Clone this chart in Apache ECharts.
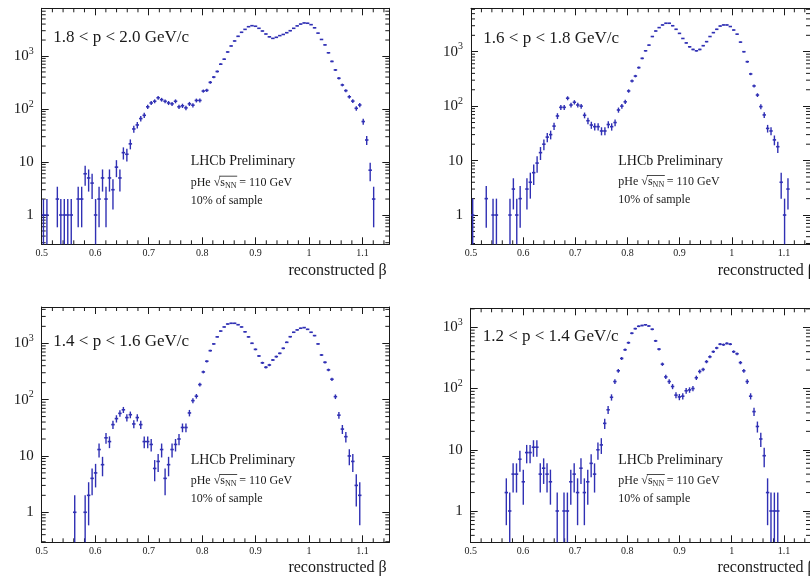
<!DOCTYPE html>
<html><head><meta charset="utf-8">
<script src="https://cdn.jsdelivr.net/npm/echarts@6/dist/echarts.min.js"></script>
<style>html,body{margin:0;padding:0;background:#fff}#c{width:810px;height:576px}</style>
</head><body><div id="c"></div>
<script>
// ---------- data ----------
const BIN_LOW = 0.5, BIN_WIDTH = 0.0065, N_BINS = 100;
const X_MIN = 0.5, X_MAX = 1.15;
const xTickValues = [0.5, 0.6, 0.7, 0.8, 0.9, 1.0, 1.1];
const panelTitles = ['1.8 < p < 2.0 GeV/c', '1.6 < p < 1.8 GeV/c', '1.4 < p < 1.6 GeV/c', '1.2 < p < 1.4 GeV/c'];
const xAxisTitle = 'reconstructed β';
const labelLHCb = 'LHCb Preliminary';
const labelSample = '10% of sample';

const counts_p18_20 = [
 1,1,0,0,2,1,1,1,1,0,
 2,2,6,5,4,1,2,5,2,5,
 3,8,5,15,14,22,42,50,66,76,
 110,130,140,163,150,140,130,125,140,110,
 115,105,125,118,145,145,218,225,318,400,
 510,700,870,1190,1545,1920,2350,2800,3180,3570,
 3730,3640,3330,2960,2600,2300,2150,2250,2420,2550,
 2750,3000,3330,3700,4000,4200,4150,3900,3400,2700,
 2050,1620,1150,790,545,380,284,222,170,141,
 103,119,58,26,7,2,0,0,0,0];
const counts_p16_18 = [
 1,0,0,0,2,0,1,1,0,0,
 0,1,3,1,2,0,3,4,6,9,
 14,20,27,30,43,66,95,95,140,105,
 118,105,100,68,54,45,42,42,35,35,
 46,42,50,85,100,120,190,290,357,510,
 755,1040,1320,1900,2400,2770,3100,3330,3330,3000,
 2580,2170,1750,1450,1230,1100,1040,1100,1290,1530,
 1900,2240,2580,2960,3100,3100,2900,2500,2100,1500,
 1000,655,390,235,160,98,69,39,35,24,
 18,4,1,3,0,0,0,0,0,0];
const counts_p14_16 = [
 0,0,0,0,0,0,0,0,0,1,
 0,0,1,2,4,5,13,7,21,18,
 36,46,57,66,48,54,37,48,36,18,
 18,16,6,8,13,4,7,13,16,20,
 32,32,58,96,115,185,310,480,740,975,
 1300,1650,1950,2200,2265,2265,2140,1950,1600,1300,
 1000,780,596,450,375,412,505,580,664,815,
 1040,1310,1570,1730,1850,1900,1770,1570,1370,975,
 620,460,337,230,113,53,30,22,10,8,
 3,2,0,0,0,0,0,0,0,0];
const counts_p12_14 = [
 0,0,0,0,0,0,0,0,0,0,
 2,1,4,4,7,3,9,9,11,11,
 4,5,4,3,0,1,0,1,1,3,
 4,2,5,2,3,6,4,10,12,27,
 45,72,130,195,310,430,560,800,950,1040,
 1070,1100,1050,930,600,440,250,155,130,108,
 78,73,75,92,95,100,150,190,205,275,
 330,400,460,530,520,545,530,400,370,265,
 195,130,75,42,24,15,8,2,1,1,
 1,0,0,0,0,0,0,0,0,0];
const panelCounts = [counts_p18_20, counts_p16_18, counts_p14_16, counts_p12_14];
const yMins = [0.28, 0.29, 0.293, 0.308];
const yMaxs = [7940, 6270, 4410, 2044];

// ---------- layout / style ----------
const FONT = '"Liberation Serif", "DejaVu Serif", serif';
const AXIS_COLOR = '#1a1a1a';
const TEXT_COLOR = '#1a1a1a';
const MARK_COLOR = '#3030b4';
const grids = [
  {left: 41.7, top: 8.3, width: 347.6, height: 236},
  {left: 471, top: 8.3, width: 347.6, height: 236},
  {left: 41.7, top: 307, width: 347.6, height: 235.3},
  {left: 470.7, top: 308.3, width: 347.6, height: 234}
];
const titlePos = [[53.3, 37.3], [483.3, 38.3], [53.3, 341.7], [482.7, 336.7]];
const infoPos = [[190.7, 161.7], [618.3, 161], [190.7, 460], [618.3, 460]];
const axisTitleY = [271, 271, 567.5, 567.5];

function binCenter(i) { return BIN_LOW + (i + 0.5) * BIN_WIDTH; }

function renderErr(params, api) {
  const cs = params.coordSys;
  const x = api.value(0), v = api.value(1);
  const hw = BIN_WIDTH / 2;
  const e = Math.sqrt(v);
  const yTop = cs.y, yBot = cs.y + cs.height;
  const clampY = y => Math.max(yTop, Math.min(yBot, y));
  const c = api.coord([x, v]);
  const l = api.coord([x - hw, v]), r = api.coord([x + hw, v]);
  const hi = clampY(api.coord([x, v + e])[1]);
  const lo = (v - e) > 0 ? clampY(api.coord([x, v - e])[1]) : yBot;
  return {type: 'group', children: [
    {type: 'line', shape: {x1: c[0], y1: hi, x2: c[0], y2: lo}, style: {stroke: MARK_COLOR, lineWidth: 1.4}},
    {type: 'line', shape: {x1: l[0], y1: c[1], x2: r[0], y2: c[1]}, style: {stroke: MARK_COLOR, lineWidth: 1.6}}
  ]};
}

function renderMinor(params, api) {
  const cs = params.coordSys;
  const kind = api.value(2);
  const st = {stroke: AXIS_COLOR, lineWidth: 1};
  if (kind === 0) {
    const y = api.coord([X_MIN, api.value(1)])[1];
    return {type: 'group', children: [
      {type: 'line', shape: {x1: cs.x, y1: y, x2: cs.x + 4, y2: y}, style: st},
      {type: 'line', shape: {x1: cs.x + cs.width, y1: y, x2: cs.x + cs.width - 4, y2: y}, style: st}
    ]};
  }
  const x = api.coord([api.value(0), api.value(1)])[0];
  return {type: 'group', children: [
    {type: 'line', shape: {x1: x, y1: cs.y + cs.height, x2: x, y2: cs.y + cs.height - 4}, style: st},
    {type: 'line', shape: {x1: x, y1: cs.y, x2: x, y2: cs.y + 4}, style: st}
  ]};
}

const xAxes = [], yAxes = [], series = [], graphics = [];
grids.forEach((g, p) => {
  const ymin = yMins[p], ymax = yMaxs[p];
  const axisLine = {show: true, onZero: false, lineStyle: {color: AXIS_COLOR, width: 1}};
  const tick = {show: true, inside: true, length: 7, lineStyle: {color: AXIS_COLOR, width: 1}};
  xAxes.push({
    gridIndex: p, type: 'value', position: 'bottom', min: X_MIN, max: X_MAX, interval: 0.1,
    axisLine, axisTick: tick, splitLine: {show: false},
    axisLabel: {
      show: true, margin: 4, fontFamily: FONT, fontSize: 10, color: TEXT_COLOR,
      showMaxLabel: false,
      formatter: v => xTickValues.some(t => Math.abs(t - v) < 1e-6) ? String(+v.toFixed(1)) : ''
    }
  });
  xAxes.push({
    gridIndex: p, type: 'value', position: 'top', min: X_MIN, max: X_MAX, interval: 0.1,
    axisLine, axisTick: tick, splitLine: {show: false}, axisLabel: {show: false}
  });
  yAxes.push({
    gridIndex: p, type: 'log', logBase: 10, position: 'left', min: ymin, max: ymax,
    axisLine, axisTick: tick, splitLine: {show: false},
    axisLabel: {
      show: true, margin: 8, fontFamily: FONT, fontSize: 15, color: TEXT_COLOR,
      formatter: v => {
        const l = Math.log10(v), e = Math.round(l);
        if (Math.abs(l - e) > 1e-6 || e < 0) return '';
        if (e === 0) return '1';
        if (e === 1) return '10';
        return '{b|10}{s|' + e + '}';
      },
      rich: {
        b: {fontFamily: FONT, fontSize: 15, color: TEXT_COLOR, lineHeight: 20},
        s: {fontFamily: FONT, fontSize: 10, color: TEXT_COLOR, lineHeight: 10, verticalAlign: 'top'}
      }
    }
  });
  yAxes.push({
    gridIndex: p, type: 'log', logBase: 10, position: 'right', min: ymin, max: ymax,
    axisLine, axisTick: tick, splitLine: {show: false}, axisLabel: {show: false}
  });

  const counts = panelCounts[p];
  const data = [];
  for (let i = 0; i < N_BINS; i++) if (counts[i] > 0) data.push([binCenter(i), counts[i]]);
  series.push({
    type: 'custom', xAxisIndex: 2 * p, yAxisIndex: 2 * p, data, renderItem: renderErr,
    clip: false, silent: true, z: 5
  });

  const minor = [];
  for (let e = -1; e <= 4; e++) for (let k = 2; k <= 9; k++) {
    const v = k * Math.pow(10, e);
    if (v > ymin && v < ymax) minor.push([X_MIN, v, 0]);
  }
  for (let j = 0; j <= 32; j++) {
    const xv = +(0.5 + 0.02 * j).toFixed(2);
    if (Math.abs(xv * 10 - Math.round(xv * 10)) < 1e-6) continue;
    if (xv < X_MAX) minor.push([xv, ymin, 1]);
  }
  series.push({
    type: 'custom', xAxisIndex: 2 * p, yAxisIndex: 2 * p, data: minor, renderItem: renderMinor,
    clip: false, silent: true, z: 3
  });

  // texts
  const [tx, ty] = titlePos[p];
  graphics.push({type: 'text', x: tx, y: ty, style: {text: panelTitles[p], font: '17px ' + FONT, fill: TEXT_COLOR, align: 'left', verticalAlign: 'middle'}});
  const [ix, iy] = infoPos[p];
  graphics.push({type: 'text', x: ix, y: iy, style: {text: labelLHCb, font: '14px ' + FONT, fill: TEXT_COLOR, align: 'left', verticalAlign: 'middle'}});
  const y2 = iy + 21;
  graphics.push({type: 'text', x: ix, y: y2, style: {text: 'pHe', font: '12px ' + FONT, fill: TEXT_COLOR, align: 'left', verticalAlign: 'middle'}});
  graphics.push({type: 'text', x: ix + 23, y: y2, style: {text: '√', font: '12px ' + FONT, fill: TEXT_COLOR, align: 'left', verticalAlign: 'middle'}});
  graphics.push({type: 'text', x: ix + 29.6, y: y2, style: {text: 's', font: '12px ' + FONT, fill: TEXT_COLOR, align: 'left', verticalAlign: 'middle'}});
  graphics.push({type: 'text', x: ix + 34.3, y: y2 + 3, style: {text: 'NN', font: '8px ' + FONT, fill: TEXT_COLOR, align: 'left', verticalAlign: 'middle'}});
  graphics.push({type: 'line', shape: {x1: ix + 28.5, y1: y2 - 6.5, x2: ix + 46.5, y2: y2 - 6.5}, style: {stroke: TEXT_COLOR, lineWidth: 0.8}});
  graphics.push({type: 'text', x: ix + 48.5, y: y2, style: {text: '= 110 GeV', font: '12px ' + FONT, fill: TEXT_COLOR, align: 'left', verticalAlign: 'middle'}});
  graphics.push({type: 'text', x: ix, y: iy + 39, style: {text: labelSample, font: '12px ' + FONT, fill: TEXT_COLOR, align: 'left', verticalAlign: 'middle'}});
  graphics.push({type: 'text', x: g.left + g.width - 2.6, y: axisTitleY[p], style: {text: xAxisTitle, font: '16px ' + FONT, fill: TEXT_COLOR, align: 'right', verticalAlign: 'middle'}});
});

const chart = echarts.init(document.getElementById('c'), null, {renderer: 'canvas'});
chart.setOption({
  animation: false,
  backgroundColor: '#ffffff',
  grid: grids.map(g => Object.assign({containLabel: false}, g)),
  xAxis: xAxes,
  yAxis: yAxes,
  series,
  graphic: graphics
});
</script></body></html>
